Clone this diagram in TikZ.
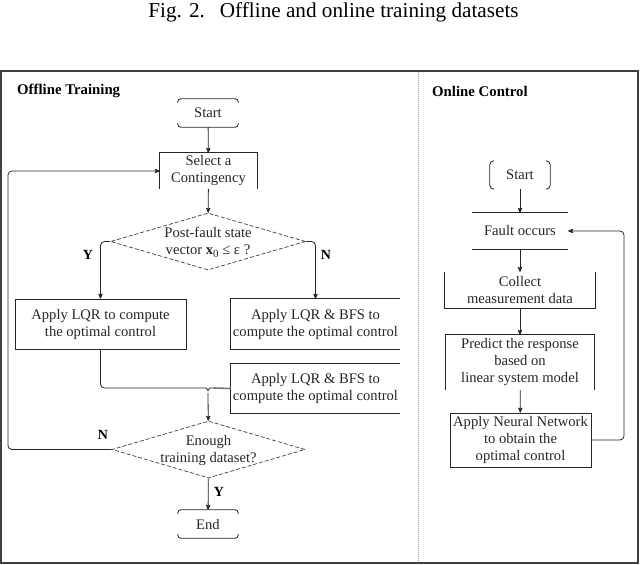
\documentclass[tikz,border=0pt]{standalone}
\usepackage{fontspec}
\setmainfont{Liberation Serif}
\usetikzlibrary{calc}
\usetikzlibrary{arrows}
\usetikzlibrary{positioning}
\usetikzlibrary{shapes.geometric}

\tikzset{
  txt/.style={font=\fontsize{14.6}{17}\selectfont, align=center, inner sep=0pt, text=black!85},
  head/.style={font=\bfseries\fontsize{14.8}{16}\selectfont, inner sep=0pt, anchor=west},
  lbl/.style={font=\bfseries\fontsize{14}{16}\selectfont, inner sep=0pt},
  ln/.style={draw=black!85, line width=0.8pt},
  arr/.style={ln, ->, >=stealth'},
  dia/.style={shape=diamond, draw=black!75, line width=0.7pt, dash pattern=on 4pt off 2pt, inner sep=0pt}
}

\begin{document}
\begin{tikzpicture}[x=1pt,y=-1pt]
  \useasboundingbox (0,0) rectangle (640,565);

  % caption
  \node[font=\fontsize{21.2}{23}\selectfont, inner sep=0pt] (cap) at (333.5,12.5) {Fig. 2.\hspace{15pt}Offline and online training datasets};

  % frame and divider
  \draw[draw=black!75, line width=1.5pt] (1,71) rectangle (638,563);
  \draw[draw=black!35, line width=1pt, dash pattern=on 1pt off 1pt] (418,72) -- (418,562);

  \node[head] (offT) at (17,91) {Offline Training};
  \node[head] (onT) at (432,91) {Online Control};

  % offline training
  \node[txt, minimum width=60, minimum height=28] (startA) at (208,113) {Start};
  \node[txt, minimum width=97, minimum height=36] (select) at (208.5,171) {Select a\\Contingency};
  \node[dia, minimum width=195, minimum height=57] (dec1) at (208,241.5) {};
  \node[txt] (dec1t) at (208,242.5) {Post-fault state\\vector \textbf{x}\raisebox{-3pt}{\fontsize{11}{12}\selectfont 0} ≤ ε ?};
  \node[txt, draw=black!85, line width=0.8pt, minimum width=171, minimum height=50] (lqr) at (100.5,324) {Apply LQR to compute\\the optimal control};
  \node[txt, minimum width=169, minimum height=50] (bfsA) at (315.5,324) {Apply LQR \& BFS to\\compute the optimal control};
  \node[txt, minimum width=169, minimum height=49] (bfsB) at (315.5,388.5) {Apply LQR \& BFS to\\compute the optimal control};
  \node[dia, minimum width=193, minimum height=57] (dec2) at (208.5,449.5) {};
  \node[txt] (dec2t) at (208.5,451) {Enough\\training dataset?};
  \node[txt, minimum width=60, minimum height=28] (endA) at (208,524) {End};

  \coordinate (tip) at (208,393);
  \coordinate (loopx) at (8,0);

  % partial outlines
  \draw[ln, rounded corners=3pt] ([yshift=-4pt]startA.north west) -- (startA.north west) -- (startA.north east) -- ([yshift=-4pt]startA.north east);
  \draw[ln, rounded corners=3pt] ([yshift=4pt]startA.south west) -- (startA.south west) -- (startA.south east) -- ([yshift=4pt]startA.south east);
  \draw[ln, rounded corners=3pt] ([yshift=-4pt]endA.north west) -- (endA.north west) -- (endA.north east) -- ([yshift=-4pt]endA.north east);
  \draw[ln, rounded corners=3pt] ([yshift=4pt]endA.south west) -- (endA.south west) -- (endA.south east) -- ([yshift=4pt]endA.south east);
  \draw[ln] (select.south west) |- (select.north east) -- (select.south east);
  \draw[ln] (bfsA.north east) -| (bfsA.south west) -- (bfsA.south east);
  \draw[ln] (bfsB.north east) -| (bfsB.south west) -- (bfsB.south east);

  % connectors
  \draw[arr] (startA) -- (select);
  \draw[arr] (select) -- (dec1);
  \draw[arr, rounded corners=4pt] (dec1.west) -| (lqr.north);
  \draw[arr, rounded corners=4pt] (dec1.east) -| (bfsA.north);
  \draw[ln, rounded corners=4pt] (lqr.south) |- (202,388) .. controls (207,388) .. (tip) .. controls (209,388) .. (214,388);
  \draw[draw=black!55, line width=1.6pt] (214,388) -- (bfsB.west);
  \draw[arr] (tip) -- (dec2);
  \draw[arr, rounded corners=4pt] (dec2.west) -- (dec2.west -| loopx) |- (select.west);
  \draw[arr] (dec2) -- (endA);

  \node[lbl] (yA) at (88,255) {Y};
  \node[lbl] (nA) at (326,255) {N};
  \node[lbl] (nB) at (103,435) {N};
  \node[lbl] (yB) at (219,492) {Y};

  % online control
  \node[txt, minimum width=60, minimum height=28] (startB) at (520,175) {Start};
  \node[txt, minimum width=96, minimum height=36] (fault) at (520,231) {Fault occurs};
  \node[txt, minimum width=150, minimum height=36] (collect) at (520,290) {Collect\\measurement data};
  \node[txt, minimum width=148, minimum height=55] (predict) at (520,362.5) {Predict the response\\based on\\linear system model};
  \node[txt, draw=black!85, line width=0.8pt, minimum width=141, minimum height=54] (neural) at (520.5,440) {Apply Neural Network\\to obtain the\\optimal control};

  \coordinate (fbx) at (624,0);

  \draw[ln, rounded corners=4pt] ([xshift=4pt]startB.north west) -- (startB.north west) -- (startB.south west) -- ([xshift=4pt]startB.south west);
  \draw[ln, rounded corners=4pt] ([xshift=-4pt]startB.north east) -- (startB.north east) -- (startB.south east) -- ([xshift=-4pt]startB.south east);
  \draw[ln] (fault.north west) -- (fault.north east);
  \draw[ln] (fault.south west) -- (fault.south east);
  \draw[ln] (collect.north west) |- (collect.south east) -- (collect.north east);
  \draw[ln] (predict.south west) |- (predict.north east) -- (predict.south east);

  \draw[arr] (startB) -- (fault);
  \draw[arr] (fault) -- (collect);
  \draw[arr] (collect) -- (predict);
  \draw[arr] (predict) -- (neural);
  \draw[arr, rounded corners=4pt] (neural.east) -- (neural.east -| fbx) |- (fault.east);
\end{tikzpicture}
\end{document}
